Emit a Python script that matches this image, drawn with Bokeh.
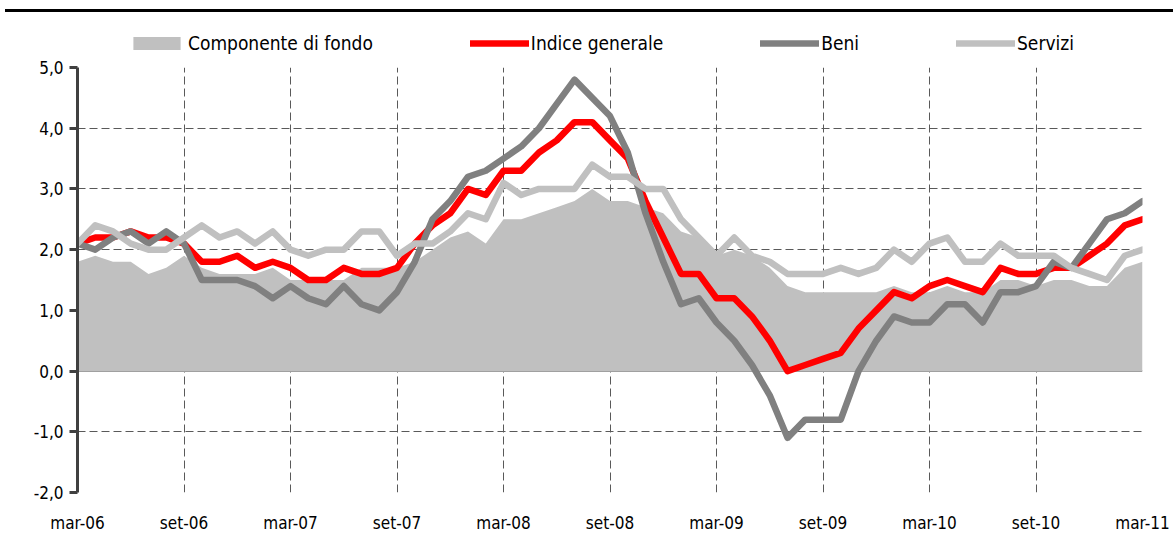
from bokeh.plotting import figure
from bokeh.models import Range1d, FixedTicker, Legend, LegendItem, Span, ColumnDataSource, Div
from bokeh.layouts import column
from bokeh.embed import file_html
from bokeh.resources import INLINE

# ---------------- data ----------------
month_names = ["gen", "feb", "mar", "apr", "mag", "giu", "lug", "ago", "set", "ott", "nov", "dic"]
months = []
for k in range(61):
    m = (2 + k) % 12
    y = 6 + (2 + k) // 12
    months.append(f"{month_names[m]}-{y:02d}")

componente_di_fondo = [1.8, 1.9, 1.8, 1.8, 1.6, 1.7, 1.9, 1.7, 1.6, 1.6,
                       1.6, 1.7, 1.5, 1.5, 1.5, 1.5, 1.7, 1.7, 1.7, 1.8,
                       2.0, 2.2, 2.3, 2.1, 2.5, 2.5, 2.6, 2.7, 2.8, 3.0,
                       2.8, 2.8, 2.7, 2.6, 2.3, 2.2, 1.9, 2.0, 1.9, 1.7,
                       1.4, 1.3, 1.3, 1.3, 1.3, 1.3, 1.4, 1.3, 1.3, 1.4,
                       1.3, 1.3, 1.5, 1.5, 1.4, 1.5, 1.5, 1.4, 1.4, 1.7,
                       1.8]
indice_generale = [2.1, 2.2, 2.2, 2.3, 2.2, 2.2, 2.1, 1.8, 1.8, 1.9,
                   1.7, 1.8, 1.7, 1.5, 1.5, 1.7, 1.6, 1.6, 1.7, 2.1,
                   2.4, 2.6, 3.0, 2.9, 3.3, 3.3, 3.6, 3.8, 4.1, 4.1,
                   3.8, 3.5, 2.8, 2.2, 1.6, 1.6, 1.2, 1.2, 0.9, 0.5,
                   0.0, 0.1, 0.2, 0.3, 0.7, 1.0, 1.3, 1.2, 1.4, 1.5,
                   1.4, 1.3, 1.7, 1.6, 1.6, 1.7, 1.7, 1.9, 2.1, 2.4,
                   2.5]
beni = [2.1, 2.0, 2.2, 2.3, 2.1, 2.3, 2.1, 1.5, 1.5, 1.5,
        1.4, 1.2, 1.4, 1.2, 1.1, 1.4, 1.1, 1.0, 1.3, 1.8,
        2.5, 2.8, 3.2, 3.3, 3.5, 3.7, 4.0, 4.4, 4.8, 4.5,
        4.2, 3.6, 2.6, 1.8, 1.1, 1.2, 0.8, 0.5, 0.1, -0.4,
        -1.1, -0.8, -0.8, -0.8, 0.0, 0.5, 0.9, 0.8, 0.8, 1.1,
        1.1, 0.8, 1.3, 1.3, 1.4, 1.8, 1.7, 2.1, 2.5, 2.6,
        2.8]
servizi = [2.1, 2.4, 2.3, 2.1, 2.0, 2.0, 2.2, 2.4, 2.2, 2.3,
           2.1, 2.3, 2.0, 1.9, 2.0, 2.0, 2.3, 2.3, 1.9, 2.1,
           2.1, 2.3, 2.6, 2.5, 3.1, 2.9, 3.0, 3.0, 3.0, 3.4,
           3.2, 3.2, 3.0, 3.0, 2.5, 2.2, 1.9, 2.2, 1.9, 1.8,
           1.6, 1.6, 1.6, 1.7, 1.6, 1.7, 2.0, 1.8, 2.1, 2.2,
           1.8, 1.8, 2.1, 1.9, 1.9, 1.9, 1.7, 1.6, 1.5, 1.9,
           2.0]

series_names = ["Componente di fondo", "Indice generale", "Beni", "Servizi"]
y_ticks = [-2, -1, 0, 1, 2, 3, 4, 5]
y_tick_labels = ["-2,0", "-1,0", "0,0", "1,0", "2,0", "3,0", "4,0", "5,0"]
x_tick_step = 6

# ---------------- styling ----------------
FONT = "'Liberation Sans Narrow', 'Arial Narrow', 'DejaVu Sans Condensed', sans-serif"
RED = "#ff0000"
DARK = "#808080"
LIGHT = "#c0c0c0"
AREA = "#c0c0c0"
GRID = "#595959"
LW = 6.5

x = list(range(len(months)))
src = ColumnDataSource(dict(x=x, fondo=componente_di_fondo, indice=indice_generale,
                            beni=beni, servizi=servizi, zero=[0] * len(x)))


def draw_series(fig):
    ra = fig.varea(x="x", y1="zero", y2="fondo", source=src, fill_color=AREA)
    ri = fig.line(x="x", y="indice", source=src, line_color=RED, line_width=LW,
                  line_join="round", line_cap="round")
    rb = fig.line(x="x", y="beni", source=src, line_color=DARK, line_width=LW,
                  line_join="round", line_cap="round")
    rs = fig.line(x="x", y="servizi", source=src, line_color=LIGHT, line_width=LW,
                  line_join="round", line_cap="round")
    return [ra, ri, rb, rs]


# top rule
rule = Div(text='<div style="margin-left:5px;margin-top:8px;width:1168px;height:3px;background:#000000"></div>',
           width=1173, height=14, margin=(0, 0, 0, 0))

# legend strip (its series are drawn outside its visible range; only the legend shows)
lg = figure(width=1173, height=42, output_backend="svg", toolbar_location=None,
            x_range=Range1d(0, 1), y_range=Range1d(100, 101),
            min_border=0, min_border_left=0, min_border_right=0, min_border_top=0, min_border_bottom=0,
            x_axis_location=None, y_axis_location=None, margin=(0, 0, 0, 0))
lg.grid.visible = False
lg.outline_line_color = None
lg.background_fill_color = "white"
lg.border_fill_color = "white"
lg_renderers = draw_series(lg)
legend = Legend(items=[LegendItem(label=n, renderers=[r]) for n, r in zip(series_names, lg_renderers)],
                orientation="horizontal", location=(50, 2),
                glyph_width=59, glyph_height=16, label_standoff=2, spacing=97,
                padding=0, margin=0, border_line_color=None, background_fill_alpha=0,
                label_text_font=FONT, label_text_font_size="19px", label_text_color="#000000")
lg.add_layout(legend, "center")

# main chart
p = figure(width=1173, height=490, output_backend="svg", toolbar_location=None,
           x_range=Range1d(0, len(months) - 1), y_range=Range1d(-2, 5),
           min_border_left=77, min_border_right=31, min_border_top=11, min_border_bottom=54,
           margin=(0, 0, 0, 0))
p.outline_line_color = None
p.background_fill_color = "white"
p.border_fill_color = "white"

x_tick_pos = x[::x_tick_step]
p.xgrid.ticker = FixedTicker(ticks=x_tick_pos)
p.ygrid.ticker = FixedTicker(ticks=y_ticks)
for g in (p.xgrid, p.ygrid):
    g.grid_line_color = GRID
    g.grid_line_dash = "8 4"
    g.grid_line_width = 1

xa = p.xaxis[0]
xa.ticker = FixedTicker(ticks=x_tick_pos)
xa.major_label_overrides = {i: months[i] for i in x_tick_pos}
xa.axis_line_color = None
xa.major_tick_line_color = None
xa.minor_tick_line_color = None
xa.major_tick_out = 0
xa.major_tick_in = 0
xa.major_label_standoff = 20
xa.major_label_text_font = FONT
xa.major_label_text_font_size = "17px"
xa.major_label_text_color = "#000000"

ya = p.yaxis[0]
ya.ticker = FixedTicker(ticks=y_ticks)
ya.major_label_overrides = dict(zip(y_ticks, y_tick_labels))
ya.axis_line_color = "#404040"
ya.axis_line_width = 3
ya.major_tick_line_color = "#404040"
ya.major_tick_line_width = 3
ya.major_tick_out = 8
ya.major_tick_in = 0
ya.minor_tick_line_color = None
ya.major_label_standoff = 6
ya.major_label_text_font = FONT
ya.major_label_text_font_size = "17px"
ya.major_label_text_color = "#000000"

p.add_layout(Span(location=0, dimension="width", line_color="#a0a0a0", line_width=2, level="underlay"))
draw_series(p)

layout = column(rule, lg, p, spacing=0, margin=(0, 0, 0, 0))
open("out.html", "w").write(file_html(layout, INLINE))
